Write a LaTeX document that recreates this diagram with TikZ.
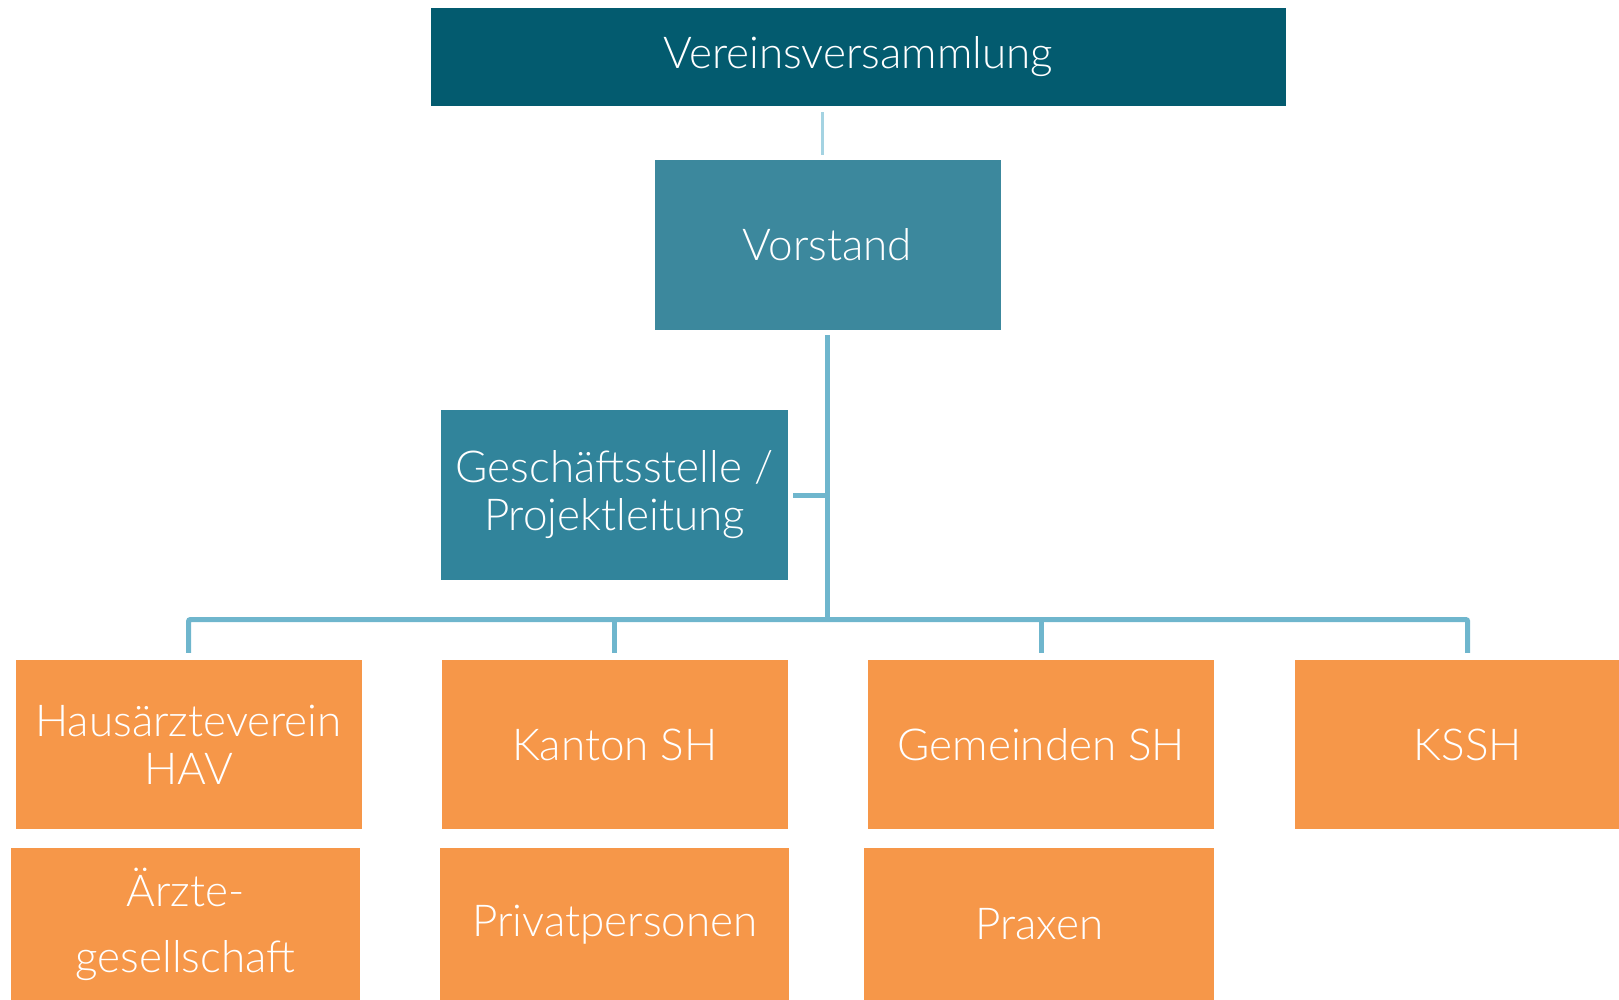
\documentclass[tikz,border=0pt]{standalone}
\usepackage{fontspec}
\setmainfont{Lato Light}
\usetikzlibrary{positioning}
\definecolor{petrol}{HTML}{035B6F}
\definecolor{teal1}{HTML}{3C889D}
\definecolor{teal2}{HTML}{31849B}
\definecolor{orangebox}{HTML}{F69749}
\definecolor{lineblue}{HTML}{6FB6CD}
\definecolor{lightline}{HTML}{A4D3E2}

\begin{document}
\begin{tikzpicture}
[x=1pt,y=-1pt,
 box/.style={rectangle,inner sep=0pt,text=white,align=center,
   font=\fontsize{44}{48}\selectfont},
 member/.style={box,fill=orangebox,minimum width=346pt,minimum height=169pt},
 lower/.style={member,minimum height=152pt},
 conn/.style={draw=lineblue,line width=5pt}]
\clip (0,0) rectangle (1619,1000);
\node[box,fill=petrol,minimum width=855pt,minimum height=98pt](verein) at (858,57){Vereinsversammlung};
\node[box,fill=teal1,minimum width=346pt,minimum height=170pt](vorstand) at (827.5,245){Vorstand};
\node[box,fill=teal2,minimum width=347pt,minimum height=170pt](gs) at (614.5,495){Geschäftsstelle /\\Projektleitung};
\node[member](hav) at (188.5,744.5){Hausärzteverein\\HAV};
\node[member,right=80pt of hav](kanton){Kanton SH};
\node[member,right=80pt of kanton](gemeinden){Gemeinden SH};
\node[member,right=80pt of gemeinden](kssh){KSSH};
\node[lower,minimum width=349pt,below=19pt of hav,xshift=-3pt](aerzte){Ärzte-\\[18pt]gesellschaft};
\node[lower,minimum width=349pt,below=19pt of kanton](privat){Privatpersonen};
\node[lower,minimum width=350pt,below=19pt of gemeinden,xshift=-2pt](praxen){Praxen};
\coordinate (bus) at (827.5,619.5);
\draw[draw=lightline,line width=3pt] ([xshift=-5.5pt,yshift=-6pt]verein.south -| vorstand) -- ([xshift=-5.5pt,yshift=5pt]vorstand.north);
\draw[conn] ([yshift=-5pt]vorstand.south) -- (bus);
\draw[conn] ([xshift=5pt]gs.east) -- (gs.east -| bus);
\draw[conn,rounded corners=2pt] ([yshift=7pt]hav.north) |- (bus) -| ([yshift=7pt]kssh.north);
\draw[conn] ([yshift=7pt]kanton.north) -- (kanton.north |- bus);
\draw[conn] ([yshift=7pt]gemeinden.north) -- (gemeinden.north |- bus);
\end{tikzpicture}
\end{document}
